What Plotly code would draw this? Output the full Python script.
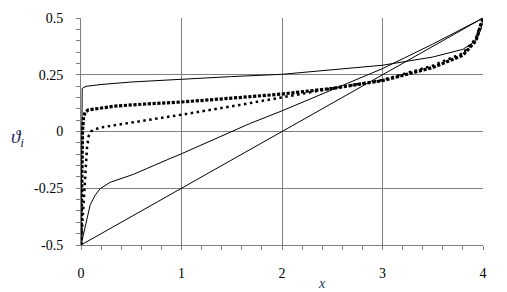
import plotly.graph_objects as go

# Thin solid line 1 (upper, nearly flat)
xA = [0, 0.005, 0.012, 0.05, 0.2, 0.5, 1.0, 1.5, 2.0, 2.5, 3.0, 3.5, 3.8, 3.93, 3.98, 4.0]
yA = [-0.5, -0.2, 0.19, 0.199, 0.207, 0.218, 0.231, 0.242, 0.252, 0.272, 0.292, 0.328, 0.362, 0.40, 0.45, 0.5]

# Thin solid line 2 (steep start, then nearly straight)
xB = [0, 0.026, 0.06, 0.092, 0.142, 0.19, 0.29, 0.52, 0.887, 1.0, 1.68, 2.0, 2.5, 3.0, 3.5, 4.0]
yB = [-0.5, -0.448, -0.378, -0.322, -0.28, -0.252, -0.224, -0.189, -0.119, -0.098, 0.035, 0.091, 0.184, 0.277, 0.385, 0.5]

# Thin solid line 3 (straight)
xC = [0, 4]
yC = [-0.5, 0.5]

# Thick dotted series
xD = [0, 0.008, 0.015, 0.025, 0.04, 0.07, 0.11, 0.2, 0.34, 0.6, 1.0, 1.5, 1.68, 2.0, 2.5, 3.0, 3.5, 3.8, 3.93, 3.97, 4.0]
yD = [-0.5, -0.25, 0.0, 0.06, 0.084, 0.095, 0.098, 0.104, 0.112, 0.12, 0.13, 0.147, 0.154, 0.165, 0.19, 0.224, 0.282, 0.336, 0.40, 0.46, 0.5]

# Small dotted series
xE = [0, 0.03, 0.045, 0.06, 0.076, 0.1, 0.125, 0.19, 0.34, 0.6, 1.0, 1.58, 2.0, 2.5, 3.0, 3.5, 3.8, 3.93, 3.97, 4.0]
yE = [-0.5, -0.3, -0.15, -0.07, -0.02, 0.0, 0.007, 0.017, 0.028, 0.045, 0.074, 0.117, 0.151, 0.19, 0.227, 0.29, 0.345, 0.41, 0.465, 0.5]

yticks = [-0.5, -0.25, 0, 0.25, 0.5]
yticktext = ["-0.5", "-0.25", "0", "0.25", "0.5"]
xticks = [0, 1, 2, 3, 4]
xticktext = ["0", "1", "2", "3", "4"]

SERIF = "'Times New Roman', 'Liberation Serif', 'DejaVu Serif', serif"

fig = go.Figure()
fig.add_trace(go.Scatter(x=xC, y=yC, mode="lines", line=dict(color="black", width=1)))
fig.add_trace(go.Scatter(x=xB, y=yB, mode="lines", line=dict(color="black", width=1)))
fig.add_trace(go.Scatter(x=xA, y=yA, mode="lines", line=dict(color="black", width=1)))
fig.add_trace(go.Scatter(x=xE, y=yE, mode="lines", line=dict(color="black", width=2.5, dash="2.5px,3.5px")))
fig.add_trace(go.Scatter(x=xD, y=yD, mode="lines", line=dict(color="black", width=3.2, dash="3.2px,1.6px")))

tickfont = dict(family=SERIF, size=14, color="black")
grid = "#808080"

fig.update_layout(
    width=507, height=292,
    margin=dict(l=81, r=24, t=11, b=43),
    paper_bgcolor="white", plot_bgcolor="white",
    showlegend=False,
    font=dict(family=SERIF),
    xaxis=dict(range=[0, 4], tickvals=xticks, ticktext=xticktext,
               showgrid=True, gridcolor=grid, gridwidth=1,
               showline=True, linecolor=grid, linewidth=1,
               ticks="outside", ticklen=4, tickcolor=grid, tickfont=tickfont,
               ticklabelstandoff=11, zeroline=False,
               minor=dict(dtick=0.2, tick0=0, ticks="outside", ticklen=4, tickcolor=grid, showgrid=False)),
    yaxis=dict(range=[-0.5, 0.5], tickvals=yticks, ticktext=yticktext,
               showgrid=True, gridcolor=grid, gridwidth=1,
               showline=True, linecolor=grid, linewidth=1,
               ticks="outside", ticklen=4, tickcolor=grid, tickfont=tickfont,
               ticklabelstandoff=10, zeroline=False,
               minor=dict(dtick=0.05, tick0=0, ticks="outside", ticklen=4, tickcolor=grid, showgrid=False)),
)

fig.add_annotation(text="<i>x</i>", xref="paper", yref="paper", x=0.599, y=-0.17,
                   showarrow=False, xanchor="center", yanchor="middle",
                   font=dict(family=SERIF, size=14, color="#1f2d5c"))
fig.add_annotation(text="<i>ϑ<sub>i</sub></i>", xref="paper", yref="paper", x=-0.159, y=0.47,
                   showarrow=False, xanchor="center", yanchor="middle",
                   font=dict(family=SERIF, size=19, color="#1b2a5a"))

fig.write_html("out.html")
